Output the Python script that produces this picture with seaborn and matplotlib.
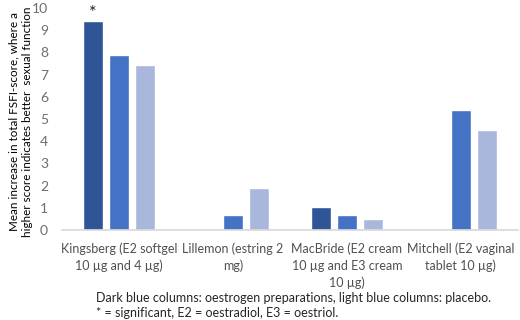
import matplotlib
matplotlib.use("Agg")
import matplotlib.pyplot as plt
import seaborn as sns
import pandas as pd
import numpy as np

categories = ["Kingsberg (E2 softgel\n10 µg and 4 µg)", "Lillemon (estring 2\nmg)",
              "MacBride (E2 cream\n10 µg and E3 cream\n10 µg)", "Mitchell (E2 vaginal\ntablet 10 µg)"]
series_names = ["Preparation A", "Preparation B", "Placebo"]
series_a = [9.4, np.nan, 1.03, np.nan]
series_b = [7.9, 0.68, 0.68, 5.4]
series_c = [7.45, 1.9, 0.5, 4.5]
colors = ["#2F5597", "#4472C4", "#A9B7DD"]
yticks = list(range(0, 11))

rows = []
for s, vals in zip(series_names, [series_a, series_b, series_c]):
    for c, v in zip(categories, vals):
        rows.append({"study": c, "series": s, "value": v})
df = pd.DataFrame(rows)

sns.set_theme(style="white")
plt.rcParams['font.family'] = ['Lato', 'DejaVu Sans']

fig = plt.figure(figsize=(5.2, 3.2), dpi=100)
ax = fig.add_axes([0.119, 0.281, 0.877, 0.694])
sns.barplot(data=df, x="study", y="value", hue="series", hue_order=series_names,
            palette=colors, width=0.684, gap=0.25, ax=ax, legend=False,
            saturation=1, errorbar=None)
ax.set_xlim(-0.5, 3.5)
ax.set_ylim(0, 10)
ax.set_yticks(yticks)
ax.set_yticklabels([str(t) for t in yticks], color="#6E6E6E", fontsize=10)
ax.tick_params(axis="x", colors="#505050", labelsize=9, length=0, pad=9)
for lbl in ax.get_xticklabels():
    lbl.set_linespacing(1.45)
ax.tick_params(axis="y", length=0, pad=10)
ax.set_xlabel("")
ax.set_ylabel("Mean increase in total FSFI-score, where a\nhigher score indicates better  sexual function",
              fontsize=8.4, color="#000000", linespacing=1.25)
ax.yaxis.set_label_coords(-0.064, 0.49)
for sp in ["top", "right", "left"]:
    ax.spines[sp].set_visible(False)
ax.spines["bottom"].set_color("#D9D9D9")

# asterisk above first bar
p = ax.patches[0]
ax.text(p.get_x() + p.get_width() / 2, p.get_height() + 0.02, "*", ha="center",
        va="bottom", fontsize=13, color="#222222")

fig.text(0.185, 0.088, "Dark blue columns: oestrogen preparations, light blue columns: placebo.\n"
         "* = significant, E2 = oestradiol, E3 = oestriol.", fontsize=9, ha="left", va="top",
         linespacing=1.3)

fig.savefig("out.png", dpi=100)
